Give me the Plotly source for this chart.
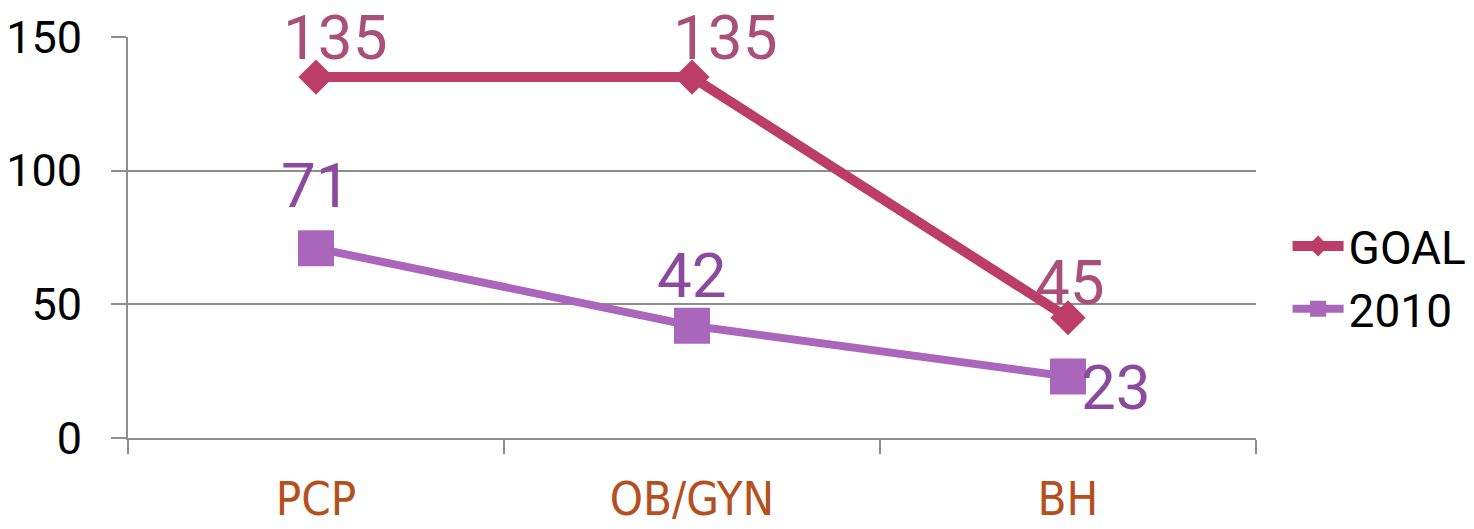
import plotly.graph_objects as go

# Categories and series values
categories = ["PCP", "OB/GYN", "BH"]
goal_values = [135, 135, 45]
actual_2010 = [71, 42, 23]

# Per-label offsets (px) for the value labels
goal_label_shift = [(19, 40), (33, 40), (2, 35)]
actual_label_shift = [(0, 63), (0, 50), (48, -11)]

GOAL_COLOR = "#BB3D68"
GOAL_TEXT = "#A8507A"
Y2010_COLOR = "#AA66BB"
Y2010_TEXT = "#8B4A9E"
GRID = "#8E8E8E"

fig = go.Figure()
fig.add_trace(go.Scatter(
    x=categories, y=goal_values, name="GOAL", mode="lines+markers",
    line=dict(color=GOAL_COLOR, width=10),
    marker=dict(symbol="diamond", size=27, color=GOAL_COLOR),
))
fig.add_trace(go.Scatter(
    x=categories, y=actual_2010, name="2010", mode="lines+markers",
    line=dict(color=Y2010_COLOR, width=8),
    marker=dict(symbol="square", size=36, color=Y2010_COLOR),
))

annotations = []
for cat, val, (dx, dy) in zip(categories, goal_values, goal_label_shift):
    annotations.append(dict(x=cat, y=val, text=str(val), showarrow=False,
                            xshift=dx, yshift=dy,
                            font=dict(family="Roboto", size=62, color=GOAL_TEXT)))
for cat, val, (dx, dy) in zip(categories, actual_2010, actual_label_shift):
    annotations.append(dict(x=cat, y=val, text=str(val), showarrow=False,
                            xshift=dx, yshift=dy,
                            font=dict(family="Roboto", size=62, color=Y2010_TEXT)))

fig.update_layout(
    width=1474, height=529,
    margin=dict(l=128, r=218, t=37, b=91, autoexpand=False),
    paper_bgcolor="white", plot_bgcolor="white",
    showlegend=True,
    legend=dict(x=1.028, y=0.40, xanchor="left", yanchor="middle",
                font=dict(family="Roboto", size=46, color="black"),
                itemwidth=51, tracegroupgap=0),
    annotations=annotations,
)
fig.update_xaxes(
    type="category", range=[-0.5, 2.5], automargin=False,
    showline=True, linecolor=GRID, linewidth=2,
    ticks="outside", tickson="boundaries", ticklen=14, tickwidth=2, tickcolor=GRID,
    showgrid=False,
    tickfont=dict(family="Liberation Sans Narrow, DejaVu Sans Condensed, sans-serif",
                  size=47, color="#B5501E"),
    ticklabelstandoff=19,
)
fig.update_yaxes(
    range=[0, 150], tickvals=[0, 50, 100, 150], automargin=False,
    showline=True, linecolor=GRID, linewidth=2,
    ticks="outside", ticklen=15, tickwidth=2, tickcolor=GRID,
    showgrid=True, gridcolor=GRID, gridwidth=2,
    zeroline=False,
    tickfont=dict(family="Roboto", size=45, color="black"),
    ticklabelstandoff=20,
)

fig.write_html("out.html")
